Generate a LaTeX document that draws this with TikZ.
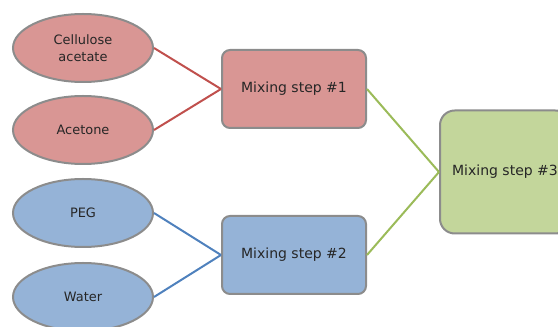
\documentclass[tikz,border=0pt]{standalone}
\usepackage{fontspec}
\setmainfont{DejaVu Sans}
\usetikzlibrary{shapes.geometric}
\definecolor{redfill}{RGB}{217,150,148}
\definecolor{redline}{RGB}{192,80,77}
\definecolor{bluefill}{RGB}{149,179,215}
\definecolor{blueline}{RGB}{79,129,189}
\definecolor{greenfill}{RGB}{195,214,155}
\definecolor{greenline}{RGB}{155,187,89}
\definecolor{bordergray}{RGB}{140,140,140}
\definecolor{textgray}{RGB}{38,38,38}
\tikzset{
        % the raw inputs
        input/.style={ellipse, draw=bordergray, line width=1.5pt, minimum width=105pt, minimum height=51pt,
            inner sep=0pt, align=center, text=textgray, font=\fontsize{9.7}{12.5}\selectfont},
        % the mixing steps
        mixbox/.style={rectangle, rounded corners=6pt, draw=bordergray, line width=1.5pt, minimum width=108pt,
            minimum height=58.5pt, text=textgray, font=\fontsize{10.5}{12}\selectfont},
        link/.style={line width=1.5pt}
    }
\begin{document}
\begin{tikzpicture}[x=0.75pt,y=0.75pt,yscale=-1,xscale=1]
%set diagram left start at 0, and has height of 327
\useasboundingbox (0,0) rectangle (558,327);

%Shape: Ellipse [id:cellulose]
\node [input, fill=redfill] (cellulose) at (83,48) {Cellulose\\acetate};
%Shape: Ellipse [id:acetone]
\node [input, fill=redfill] (acetone) at (83,130) {Acetone};
%Shape: Ellipse [id:peg]
\node [input, fill=bluefill] (peg) at (83,213) {PEG};
%Shape: Ellipse [id:water]
\node [input, fill=bluefill] (water) at (83,297) {Water};

%Shape: Rectangle [id:mixone]
\node [mixbox, fill=redfill] (mixone) at (294,89) {Mixing step \#1};
%Shape: Rectangle [id:mixtwo]
\node [mixbox, fill=bluefill] (mixtwo) at (294,255) {Mixing step \#2};
%Shape: Rectangle [id:mixthree]
\node [mixbox, fill=greenfill, rounded corners=11pt, minimum width=97.5pt, minimum height=92.25pt] (mixthree) at (505,172) {Mixing step \#3};

%Straight Lines
\draw [link, color=redline] (cellulose.east) -- (mixone.west) ;
\draw [link, color=redline] (acetone.east) -- (mixone.west) ;
%Straight Lines
\draw [link, color=blueline] (peg.east) -- (mixtwo.west) ;
\draw [link, color=blueline] (water.east) -- (mixtwo.west) ;
%Straight Lines
\draw [link, color=greenline] (mixone.east) -- (mixthree.west) ;
\draw [link, color=greenline] (mixtwo.east) -- (mixthree.west) ;

\end{tikzpicture}
\end{document}
